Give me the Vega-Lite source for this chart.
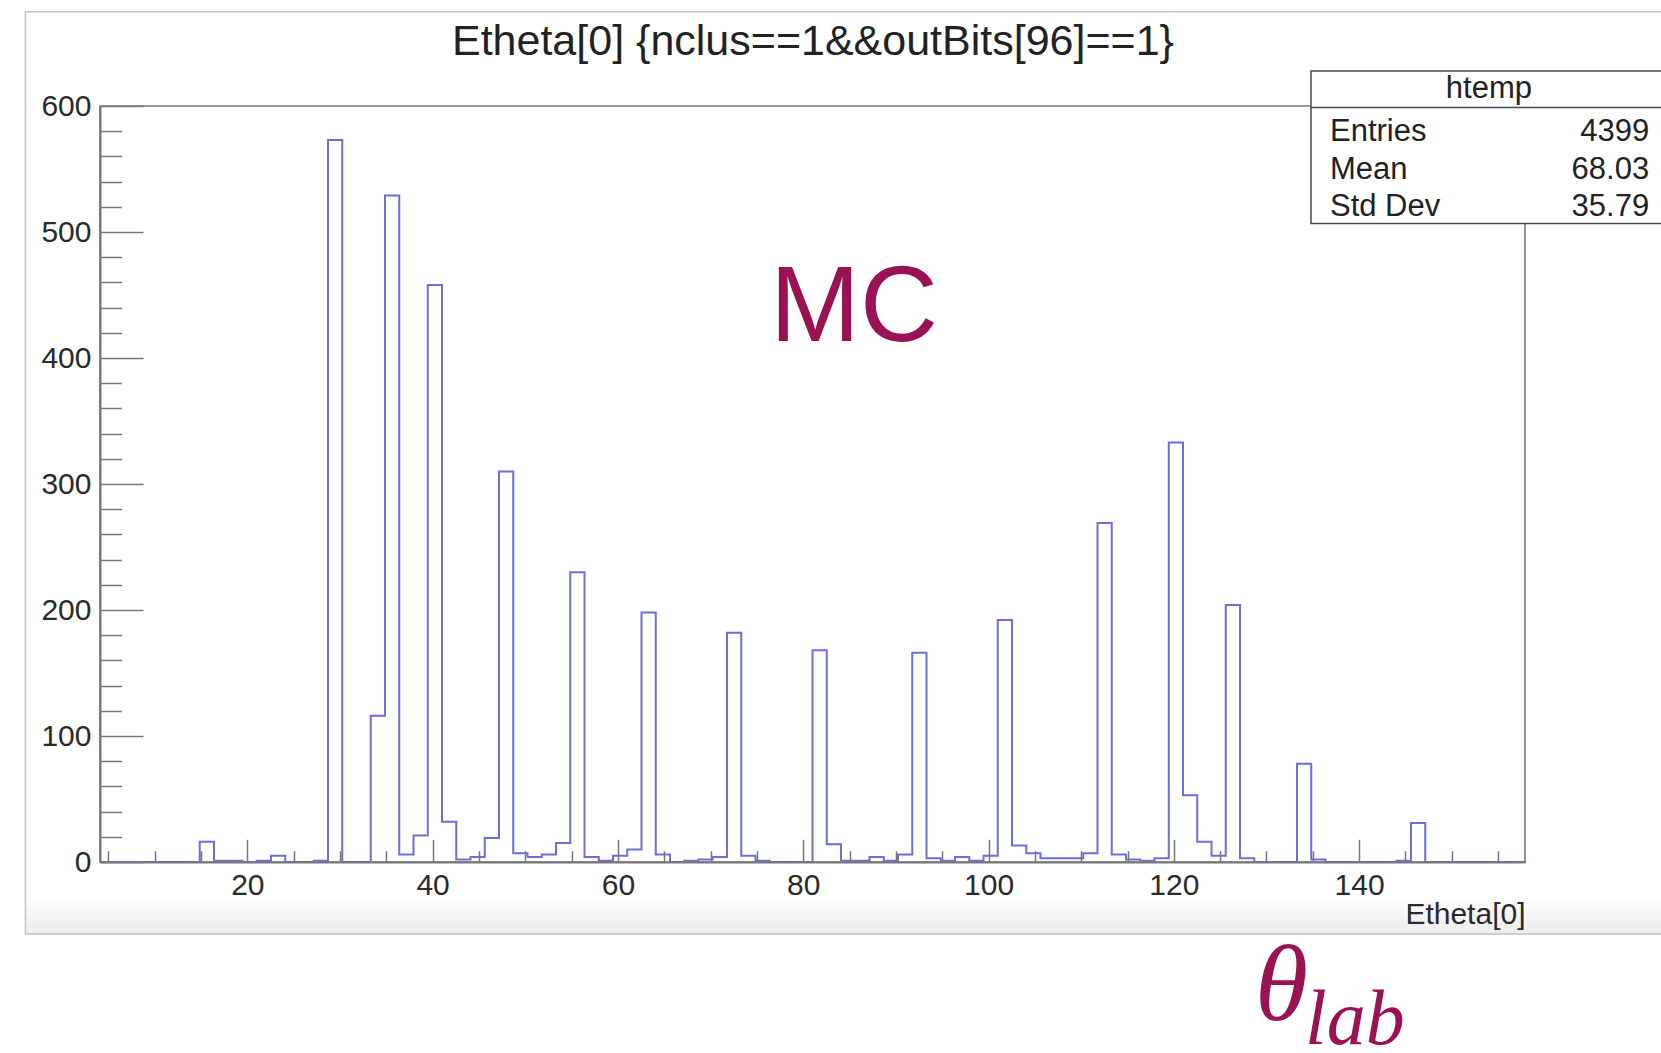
{
  "$schema": "https://vega.github.io/schema/vega-lite/v6.json",
  "width": 1425,
  "height": 756,
  "autosize": "none",
  "padding": {"left": 100, "top": 106, "right": 136, "bottom": 191},
  "background": "#ffffff",
  "config": {
    "view": {"stroke": "#777777", "strokeWidth": 1.6},
    "font": "Liberation Sans",
    "text": {"font": "Liberation Sans", "color": "#222222"}
  },
  "datasets": {
    "htemp": [
      {"lo": 4.1, "n": 0}, {"lo": 5.638, "n": 0}, {"lo": 7.176, "n": 0}, {"lo": 8.714, "n": 0},
      {"lo": 10.252, "n": 0}, {"lo": 11.79, "n": 0}, {"lo": 13.328, "n": 0}, {"lo": 14.866, "n": 16},
      {"lo": 16.404, "n": 1}, {"lo": 17.942, "n": 1}, {"lo": 19.48, "n": 0}, {"lo": 21.018, "n": 1},
      {"lo": 22.556, "n": 5}, {"lo": 24.094, "n": 0}, {"lo": 25.632, "n": 0}, {"lo": 27.17, "n": 1},
      {"lo": 28.708, "n": 573}, {"lo": 30.246, "n": 0}, {"lo": 31.784, "n": 0}, {"lo": 33.322, "n": 116},
      {"lo": 34.86, "n": 529}, {"lo": 36.398, "n": 6}, {"lo": 37.936, "n": 21}, {"lo": 39.474, "n": 458},
      {"lo": 41.012, "n": 32}, {"lo": 42.55, "n": 2}, {"lo": 44.088, "n": 4}, {"lo": 45.626, "n": 19},
      {"lo": 47.164, "n": 310}, {"lo": 48.702, "n": 7}, {"lo": 50.24, "n": 4}, {"lo": 51.778, "n": 6},
      {"lo": 53.316, "n": 15}, {"lo": 54.854, "n": 230}, {"lo": 56.392, "n": 4}, {"lo": 57.93, "n": 1},
      {"lo": 59.468, "n": 5}, {"lo": 61.006, "n": 10}, {"lo": 62.544, "n": 198}, {"lo": 64.082, "n": 6},
      {"lo": 65.62, "n": 0}, {"lo": 67.158, "n": 1}, {"lo": 68.696, "n": 2}, {"lo": 70.234, "n": 4},
      {"lo": 71.772, "n": 182}, {"lo": 73.31, "n": 5}, {"lo": 74.848, "n": 1}, {"lo": 76.386, "n": 0},
      {"lo": 77.924, "n": 0}, {"lo": 79.462, "n": 0}, {"lo": 81.0, "n": 168}, {"lo": 82.538, "n": 14},
      {"lo": 84.076, "n": 1}, {"lo": 85.614, "n": 1}, {"lo": 87.152, "n": 4}, {"lo": 88.69, "n": 1},
      {"lo": 90.228, "n": 6}, {"lo": 91.766, "n": 166}, {"lo": 93.304, "n": 3}, {"lo": 94.842, "n": 1},
      {"lo": 96.38, "n": 4}, {"lo": 97.918, "n": 1}, {"lo": 99.456, "n": 5}, {"lo": 100.994, "n": 192},
      {"lo": 102.532, "n": 13}, {"lo": 104.07, "n": 7}, {"lo": 105.608, "n": 3}, {"lo": 107.146, "n": 3},
      {"lo": 108.684, "n": 3}, {"lo": 110.222, "n": 7}, {"lo": 111.76, "n": 269}, {"lo": 113.298, "n": 6},
      {"lo": 114.836, "n": 2}, {"lo": 116.374, "n": 1}, {"lo": 117.912, "n": 3}, {"lo": 119.45, "n": 333},
      {"lo": 120.988, "n": 53}, {"lo": 122.526, "n": 16}, {"lo": 124.064, "n": 5}, {"lo": 125.602, "n": 204},
      {"lo": 127.14, "n": 3}, {"lo": 128.678, "n": 0}, {"lo": 130.216, "n": 0}, {"lo": 131.754, "n": 0},
      {"lo": 133.292, "n": 78}, {"lo": 134.83, "n": 2}, {"lo": 136.368, "n": 0}, {"lo": 137.906, "n": 0},
      {"lo": 139.444, "n": 0}, {"lo": 140.982, "n": 0}, {"lo": 142.52, "n": 0}, {"lo": 144.058, "n": 1},
      {"lo": 145.596, "n": 31}, {"lo": 147.134, "n": 0}, {"lo": 148.672, "n": 0}, {"lo": 150.21, "n": 0},
      {"lo": 151.748, "n": 0}, {"lo": 153.286, "n": 0}, {"lo": 154.824, "n": 0}, {"lo": 156.362, "n": 0},
      {"lo": 157.9, "n": 0}
    ],
    "stats": [
      {"name": "Entries", "value": "4399"},
      {"name": "Mean", "value": "68.03"},
      {"name": "Std Dev", "value": "35.79"}
    ],
    "one": [{}]
  },
  "resolve": {"axis": {"x": "independent", "y": "independent"}},
  "layer": [
    {
      "description": "canvas shading along the bottom of the pad",
      "data": {"name": "one"},
      "mark": {"type": "rect", "fill": {"gradient": "linear", "x1": 0, "y1": 0, "x2": 0, "y2": 1, "stops": [{"offset": 0, "color": "#ffffff"}, {"offset": 1, "color": "#ececec"}]}},
      "encoding": {
        "x": {"datum": -3.95, "type": "quantitative", "axis": null},
        "x2": {"datum": 185},
        "y": {"datum": -26, "type": "quantitative", "axis": null},
        "y2": {"datum": -57.1}
      }
    },
    {
      "description": "pad border",
      "data": {"name": "one"},
      "mark": {"type": "rect", "fill": null, "stroke": "#c4c4c4", "strokeWidth": 1.5},
      "encoding": {
        "x": {"datum": -3.95, "type": "quantitative", "axis": null},
        "x2": {"datum": 185},
        "y": {"datum": 674.8, "type": "quantitative", "axis": null},
        "y2": {"datum": -57.1}
      }
    },
    {
      "description": "minor tick marks on both axes",
      "data": {"name": "htemp"},
      "mark": {"type": "point", "opacity": 0, "size": 1},
      "encoding": {
        "x": {
          "field": "lo", "type": "quantitative",
          "axis": {
            "orient": "bottom", "values": [5, 10, 15, 25, 30, 35, 45, 50, 55, 65, 70, 75, 85, 90, 95, 105, 110, 115, 125, 130, 135, 145, 150, 155],
            "labels": false, "domain": false, "grid": false, "title": null,
            "tickSize": -11.3, "tickColor": "#777777", "tickWidth": 1.5, "zindex": 1
          }
        },
        "y": {
          "field": "n", "type": "quantitative",
          "axis": {
            "orient": "left", "values": [20, 40, 60, 80, 120, 140, 160, 180, 220, 240, 260, 280, 320, 340, 360, 380, 420, 440, 460, 480, 520, 540, 560, 580],
            "labels": false, "domain": false, "grid": false, "title": null,
            "tickSize": -21.5, "tickColor": "#777777", "tickWidth": 1.5, "zindex": 1
          }
        }
      }
    },
    {
      "description": "Etheta[0] histogram, 100 bins",
      "data": {"name": "htemp"},
      "mark": {"type": "line", "interpolate": "step-after", "stroke": "#6e6ed8", "strokeWidth": 2},
      "encoding": {
        "x": {
          "field": "lo", "type": "quantitative",
          "scale": {"domain": [4.1, 157.9], "nice": false, "zero": false},
          "axis": {
            "orient": "bottom", "values": [20, 40, 60, 80, 100, 120, 140],
            "grid": false, "domain": true, "domainColor": "#777777", "domainWidth": 2,
            "tickSize": -22.7, "tickColor": "#777777", "tickWidth": 1.5,
            "labelPadding": 31.5, "labelFontSize": 30, "labelColor": "#2a2a2a", "labelFont": "Liberation Sans", "labelFlush": false,
            "title": "Etheta[0]", "titleFont": "Liberation Sans", "titleFontSize": 30, "titleFontWeight": "normal", "titleColor": "#2a2a2a",
            "titleAnchor": "end", "titleAlign": "right", "titleBaseline": "alphabetic", "titleX": 1425, "titleY": 61,
            "zindex": 1
          }
        },
        "y": {
          "field": "n", "type": "quantitative",
          "scale": {"domain": [0, 600], "nice": false},
          "axis": {
            "orient": "left", "values": [0, 100, 200, 300, 400, 500, 600],
            "grid": false, "domain": true, "domainColor": "#777777", "domainWidth": 2,
            "tickSize": -43, "tickColor": "#777777", "tickWidth": 1.5,
            "labelPadding": 52, "labelFontSize": 30, "labelColor": "#2a2a2a", "labelFont": "Liberation Sans",
            "labelFlush": false, "labelBaseline": "middle",
            "title": null, "zindex": 1
          }
        }
      }
    },
    {
      "description": "histogram title",
      "data": {"name": "one"},
      "mark": {"type": "text", "text": "Etheta[0] {nclus==1&&outBits[96]==1}", "fontSize": 43, "align": "center", "baseline": "alphabetic"},
      "encoding": {
        "x": {"datum": 81.05, "type": "quantitative", "axis": null},
        "y": {"datum": 640.5, "type": "quantitative", "axis": null}
      }
    },
    {
      "description": "statistics box",
      "data": {"name": "one"},
      "mark": {"type": "rect", "fill": "#ffffff", "stroke": "#4a4a4a", "strokeWidth": 1.5},
      "encoding": {
        "x": {"datum": 134.8, "type": "quantitative", "axis": null},
        "x2": {"datum": 185},
        "y": {"datum": 627.8, "type": "quantitative", "axis": null},
        "y2": {"datum": 506.7}
      }
    },
    {
      "data": {"name": "one"},
      "mark": {"type": "rule", "stroke": "#4a4a4a", "strokeWidth": 1.5},
      "encoding": {
        "x": {"datum": 134.8, "type": "quantitative", "axis": null},
        "x2": {"datum": 185},
        "y": {"datum": 598.8, "type": "quantitative", "axis": null}
      }
    },
    {
      "data": {"name": "one"},
      "mark": {"type": "text", "text": "htemp", "fontSize": 31, "align": "center", "baseline": "alphabetic"},
      "encoding": {
        "x": {"datum": 154.0, "type": "quantitative", "axis": null},
        "y": {"datum": 606.7, "type": "quantitative", "axis": null}
      }
    },
    {
      "data": {"name": "stats"},
      "transform": [{"aggregate": [{"op": "values", "field": "name", "as": "rows"}]}, {"calculate": "pluck(datum.rows, 'name')", "as": "names"}],
      "mark": {"type": "text", "fontSize": 31, "align": "left", "baseline": "alphabetic", "lineHeight": 37.5},
      "encoding": {
        "x": {"datum": 136.85, "type": "quantitative", "axis": null},
        "y": {"datum": 572.2, "type": "quantitative", "axis": null},
        "text": {"field": "names"}
      }
    },
    {
      "data": {"name": "stats"},
      "transform": [{"aggregate": [{"op": "values", "field": "value", "as": "rows"}]}, {"calculate": "pluck(datum.rows, 'value')", "as": "vals"}],
      "mark": {"type": "text", "fontSize": 31, "align": "right", "baseline": "alphabetic", "lineHeight": 37.5},
      "encoding": {
        "x": {"datum": 171.3, "type": "quantitative", "axis": null},
        "y": {"datum": 572.2, "type": "quantitative", "axis": null},
        "text": {"field": "vals"}
      }
    },
    {
      "data": {"name": "one"},
      "mark": {"type": "text", "text": "MC", "fontSize": 108, "align": "center", "baseline": "alphabetic", "color": "#9a1253"},
      "encoding": {
        "x": {"datum": 85.48, "type": "quantitative", "axis": null},
        "y": {"datum": 413.5, "type": "quantitative", "axis": null}
      }
    },
    {
      "data": {"name": "one"},
      "mark": {"type": "text", "text": "θ", "font": "Liberation Serif", "fontStyle": "italic", "fontSize": 108, "align": "left", "baseline": "alphabetic", "color": "#9a1253"},
      "encoding": {
        "x": {"datum": 128.76, "type": "quantitative", "axis": null},
        "y": {"datum": -125.4, "type": "quantitative", "axis": null}
      }
    },
    {
      "data": {"name": "one"},
      "mark": {"type": "text", "text": "lab", "font": "Liberation Serif", "fontStyle": "italic", "fontSize": 78, "align": "left", "baseline": "alphabetic", "color": "#9a1253"},
      "encoding": {
        "x": {"datum": 134.16, "type": "quantitative", "axis": null},
        "y": {"datum": -144.2, "type": "quantitative", "axis": null}
      }
    }
  ]
}
